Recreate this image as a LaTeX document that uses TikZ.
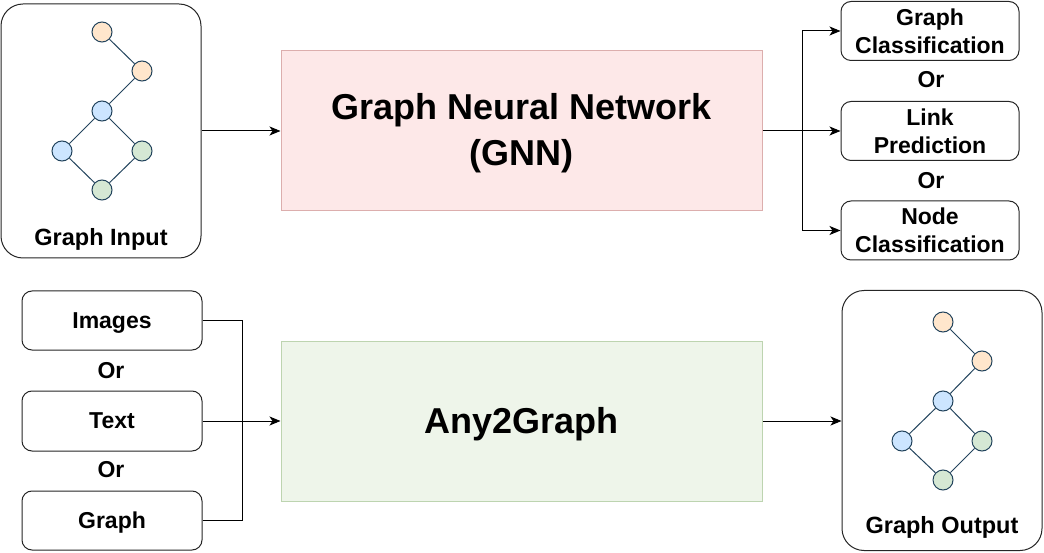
\documentclass[tikz,border=0pt]{standalone}
\usepackage{fontspec}
\setmainfont{Liberation Sans}
\usetikzlibrary{arrows.meta}
\definecolor{nodestroke}{HTML}{23445D}
\definecolor{orf}{HTML}{FFE6CC}
\definecolor{blf}{HTML}{CCE5FF}
\definecolor{grf}{HTML}{D5E8D4}
\definecolor{gnnf}{HTML}{FDE8E8}
\definecolor{gnnd}{HTML}{DCAEAD}
\definecolor{anyf}{HTML}{EEF5EA}
\definecolor{anyd}{HTML}{BDD4B0}
\begin{document}
\begin{tikzpicture}[x=1pt,y=-1pt,
  smallbox/.style={draw=black!85, line width=1pt, rounded corners=10pt, fill=white, inner sep=0pt,
    minimum width=180pt, minimum height=59pt, align=center,
    font=\fontsize{23}{28}\selectfont\bfseries},
  oneline/.style={text height=20.8pt, text depth=4.9pt},
  rbox/.style={smallbox, minimum width=178pt},
  panel/.style={draw=black!85, line width=1pt, rounded corners=22pt, fill=white, inner sep=0pt,
    minimum width=200pt},
  bigbox/.style={line width=1pt, inner sep=0pt, minimum width=481pt, minimum height=160pt,
    align=center, font=\fontsize{36}{46}\selectfont\bfseries},
  label/.style={font=\fontsize{23.5}{28}\selectfont\bfseries, inner sep=0pt, text height=21.3pt, text depth=5pt},
  ortext/.style={font=\fontsize{23}{28}\selectfont\bfseries, inner sep=0pt, oneline},
  gn/.style={circle, draw=nodestroke, line width=1pt, minimum size=20pt, inner sep=0pt},
  ge/.style={draw=nodestroke, line width=1pt},
  conn/.style={line width=1pt, -{Stealth[length=11pt,width=9pt,inset=3pt]}},
  plain/.style={line width=1pt}
]
\useasboundingbox (0,0) rectangle (1044,553);

% Graph Input panel
\node[panel, minimum height=254pt] (gin) at (101,131) {};
\node[gn, fill=orf] (a1) at (102,32) {};
\node[gn, fill=orf] (a2) at (142,71) {};
\node[gn, fill=blf] (a3) at (102,111) {};
\node[gn, fill=blf] (a4) at (62,151) {};
\node[gn, fill=grf] (a5) at (142,151) {};
\node[gn, fill=grf] (a6) at (102,190) {};
\draw[ge] (a1) -- (a2); \draw[ge] (a2) -- (a3);
\draw[ge] (a3) -- (a4); \draw[ge] (a3) -- (a5);
\draw[ge] (a4) -- (a6); \draw[ge] (a5) -- (a6);
\node[label] (ginl) at (101,237) {Graph Input};

% GNN
\node[bigbox, draw=gnnd, fill=gnnf] (gnn) at (521.5,131) {};
\node[inner sep=0pt, align=center, font=\fontsize{36}{46}\selectfont\bfseries] (gnnt) at (521.5,133) {Graph Neural Network\\(GNN)};
\draw[conn] (gin.east) -- (gnn.west);

% Right outputs
\node[rbox] (gc) at (930,31) {Graph\\Classification};
\node[ortext] (or1) at (931,80) {Or};
\node[rbox] (lp) at (930,131) {Link\\Prediction};
\node[ortext] (or2) at (931,181) {Or};
\node[rbox] (nc) at (930,230.5) {Node\\Classification};
\coordinate (split) at (802,131);
\draw[conn] (gnn.east) -- (lp.west);
\draw[conn] (split) |- (gc.west);
\draw[conn] (split) |- (nc.west);

% Bottom inputs
\node[smallbox, oneline] (im) at (112,320.5) {Images};
\node[ortext] (or3) at (111,371) {Or};
\node[smallbox, oneline, minimum height=60pt] (tx) at (112,421) {Text};
\node[ortext] (or4) at (111,470) {Or};
\node[smallbox, oneline] (gr) at (112,520.5) {Graph};

% Any2Graph
\node[bigbox, text height=32.6pt, text depth=7.6pt, draw=anyd, fill=anyf] (any) at (521.5,421) {Any2Graph};
\coordinate (merge) at (242,421);
\draw[plain] (im.east) -| (merge);
\draw[plain] (gr.east) -| (merge);
\draw[conn] (tx.east) -- (any.west);

% Graph Output panel
\node[panel, minimum height=260pt] (gout) at (942,420.5) {};
\node[gn, fill=orf] (b1) at (943,322) {};
\node[gn, fill=orf] (b2) at (982,361) {};
\node[gn, fill=blf] (b3) at (943,401) {};
\node[gn, fill=blf] (b4) at (902,441) {};
\node[gn, fill=grf] (b5) at (982,441) {};
\node[gn, fill=grf] (b6) at (943,480) {};
\draw[ge] (b1) -- (b2); \draw[ge] (b2) -- (b3);
\draw[ge] (b3) -- (b4); \draw[ge] (b3) -- (b5);
\draw[ge] (b4) -- (b6); \draw[ge] (b5) -- (b6);
\node[label] (goutl) at (942,525) {Graph Output};
\draw[conn] (any.east) -- (any.east -| gout.west);
\end{tikzpicture}
\end{document}
